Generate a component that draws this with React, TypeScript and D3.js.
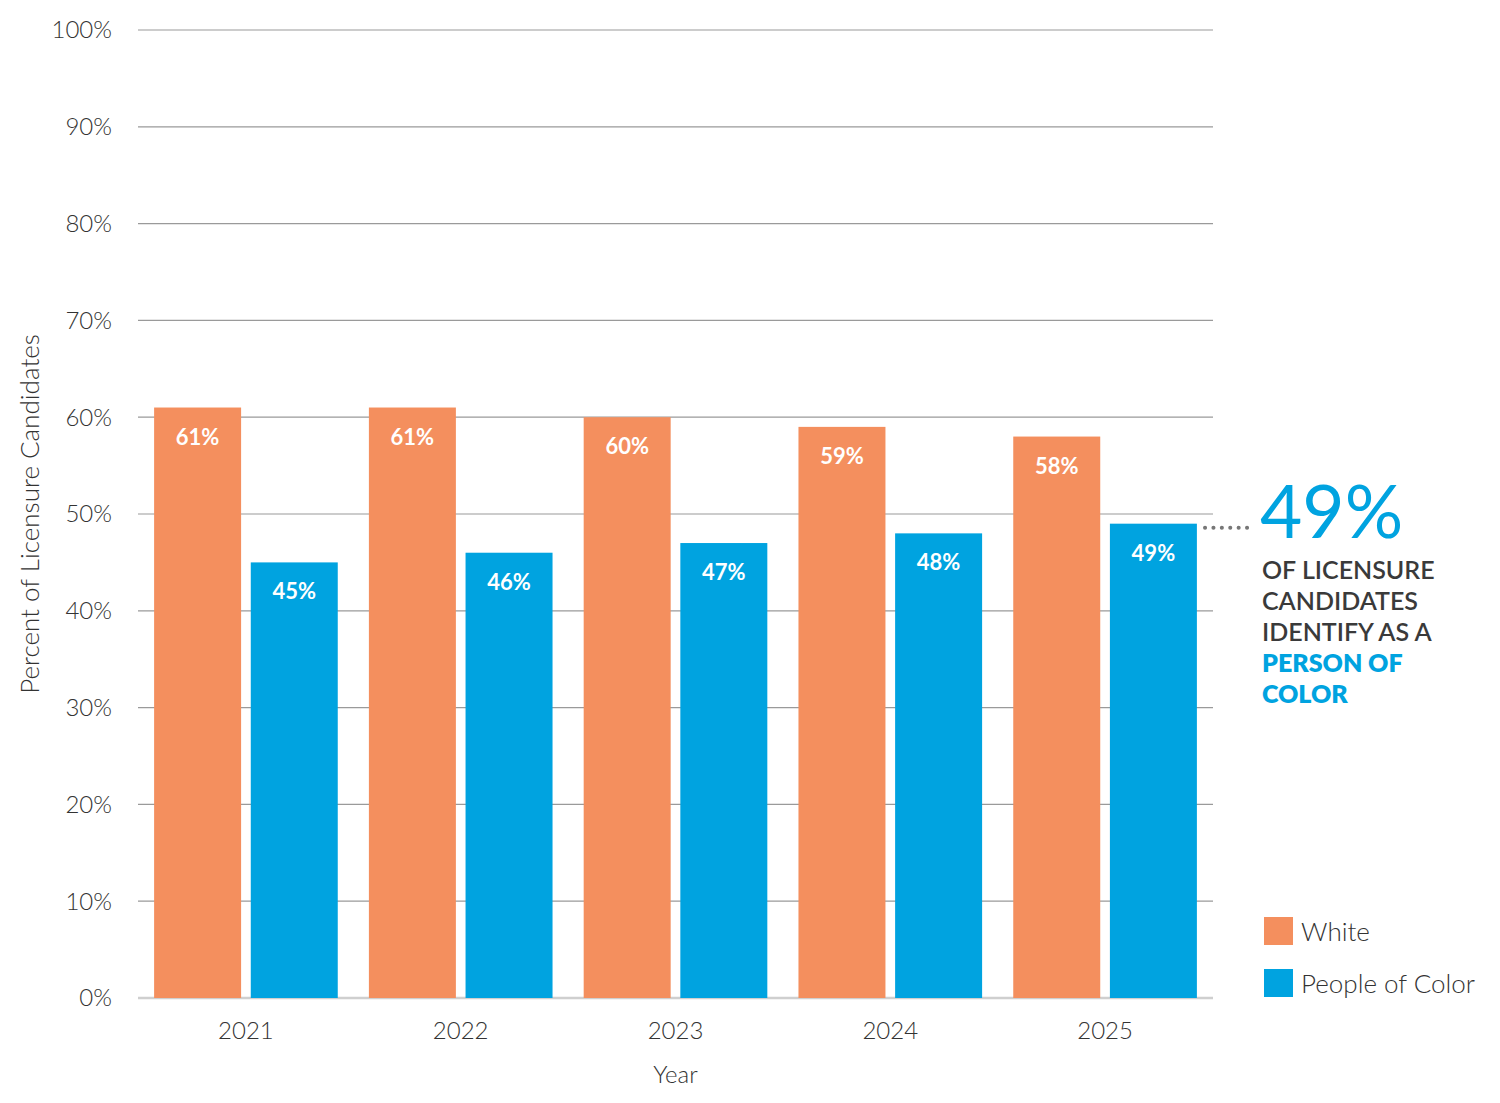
import { useEffect, useRef } from "react"
import * as d3 from "d3"

const years = ["2021", "2022", "2023", "2024", "2025"]
const series = ["White", "People of Color"]
const whiteValues = [61, 61, 60, 59, 58]
const pocValues = [45, 46, 47, 48, 49]
const yTicks = [0, 10, 20, 30, 40, 50, 60, 70, 80, 90, 100]
const calloutLines = ["OF LICENSURE", "CANDIDATES", "IDENTIFY AS A"]
const calloutBlue = ["PERSON OF", "COLOR"]

const ORANGE = "#F48F5E"
const BLUE = "#00A3E0"
const FONT = "Lato, 'Open Sans', sans-serif"

export default function App() {
    const svgRef = useRef<SVGSVGElement>(null)
    const width = 1500
    const height = 1103

    useEffect(() => {
        const margin = { top: 30, right: 287, bottom: 105, left: 138 }

        const x0 = d3.scaleBand()
            .domain(years)
            .range([margin.left, width - margin.right])
            .paddingInner(0.145)
            .paddingOuter(0.075)

        const x1 = d3.scaleBand()
            .domain(series)
            .range([0, x0.bandwidth()])
            .paddingInner(0.1)

        const y = d3.scaleLinear()
            .domain([0, 100])
            .range([height - margin.bottom, margin.top])

        const color = d3.scaleOrdinal<string>().domain(series).range([ORANGE, BLUE])

        const svg = d3.select(svgRef.current)
        svg.selectAll("*").remove() // clear before redraw

        // gridlines
        svg.append("g")
            .selectAll("line")
            .data(yTicks)
            .join("line")
            .attr("x1", margin.left)
            .attr("x2", width - margin.right)
            .attr("y1", d => y(d))
            .attr("y2", d => y(d))
            .attr("stroke", d => (d === 0 ? "#cfcfcf" : "#9a9a9a"))
            .attr("stroke-width", d => (d === 0 ? 2.5 : 1.2))

        // y tick labels
        svg.append("g")
            .selectAll("text")
            .data(yTicks)
            .join("text")
            .attr("x", 112)
            .attr("y", d => y(d))
            .attr("dy", "0.35em")
            .attr("text-anchor", "end")
            .attr("font-family", FONT)
            .attr("font-weight", 300)
            .attr("font-size", 24)
            .attr("fill", "#333")
            .text(d => `${d}%`)

        const rows = years.map((yr, i) => ({ yr, vals: [whiteValues[i], pocValues[i]] }))

        const groups = svg.append("g")
            .selectAll("g")
            .data(rows)
            .join("g")
            .attr("transform", d => `translate(${x0(d.yr)},0)`)

        groups.selectAll("rect")
            .data(d => d.vals.map((v, j) => ({ key: series[j], v })))
            .join("rect")
            .attr("x", d => x1(d.key)!)
            .attr("width", x1.bandwidth())
            .attr("y", d => y(d.v))
            .attr("height", d => y(0) - y(d.v))
            .attr("fill", d => color(d.key))

        groups.selectAll("text.val")
            .data(d => d.vals.map((v, j) => ({ key: series[j], v })))
            .join("text")
            .attr("class", "val")
            .attr("x", d => x1(d.key)! + x1.bandwidth() / 2)
            .attr("y", d => y(d.v) + 37)
            .attr("text-anchor", "middle")
            .attr("font-family", FONT)
            .attr("font-weight", 700)
            .attr("font-size", 22)
            .attr("fill", "#fff")
            .text(d => `${d.v}%`)

        // x labels
        svg.append("g")
            .selectAll("text")
            .data(years)
            .join("text")
            .attr("x", d => x0(d)! + x0.bandwidth() / 2)
            .attr("y", 1039)
            .attr("text-anchor", "middle")
            .attr("font-family", FONT)
            .attr("font-weight", 300)
            .attr("font-size", 24)
            .attr("fill", "#333")
            .text(d => d)

        svg.append("text")
            .attr("x", (margin.left + width - margin.right) / 2)
            .attr("y", 1083)
            .attr("text-anchor", "middle")
            .attr("font-family", FONT)
            .attr("font-weight", 300)
            .attr("font-size", 24)
            .attr("fill", "#333")
            .text("Year")

        svg.append("text")
            .attr("transform", `translate(39,${y(50)}) rotate(-90)`)
            .attr("text-anchor", "middle")
            .attr("font-family", FONT)
            .attr("font-weight", 300)
            .attr("font-size", 26)
            .attr("fill", "#333")
            .text("Percent of Licensure Candidates")

        // callout
        const last = pocValues[pocValues.length - 1]
        svg.append("line")
            .attr("x1", 1205)
            .attr("x2", 1252)
            .attr("y1", y(last) + 4)
            .attr("y2", y(last) + 4)
            .attr("stroke", "#777")
            .attr("stroke-width", 4)
            .attr("stroke-linecap", "round")
            .attr("stroke-dasharray", "0.1 8.3")

        svg.append("text")
            .attr("x", 1260)
            .attr("y", 538)
            .attr("font-family", FONT)
            .attr("font-weight", 400)
            .attr("font-size", 73)
            .attr("fill", BLUE)
            .text(`${last}%`)

        const callout = svg.append("g")
            .attr("font-family", FONT)
            .attr("font-size", 25)
        calloutLines.concat(calloutBlue).forEach((t, i) => {
            callout.append("text")
                .attr("x", 1262)
                .attr("y", 579 + i * 31)
                .attr("fill", i < calloutLines.length ? "#3a3a3a" : BLUE)
                .attr("font-weight", i < calloutLines.length ? 600 : 800)
                .text(t)
        })

        // legend
        const legend = svg.append("g")
            .selectAll("g")
            .data(series)
            .join("g")
            .attr("transform", (_, i) => `translate(1264,${917 + i * 52})`)
        legend.append("rect")
            .attr("width", 29)
            .attr("height", 28)
            .attr("fill", d => color(d))
        legend.append("text")
            .attr("x", 37)
            .attr("y", 24)
            .attr("font-family", FONT)
            .attr("font-weight", 300)
            .attr("font-size", 26)
            .attr("fill", "#333")
            .text(d => d)
    }, [])

    return (
        <svg
            ref={svgRef}
            width={width}
            height={height}
            viewBox={`0 0 ${width} ${height}`}
            style={{ position: "absolute", left: 0, top: 0, background: "#fff" }}
        />
    )
}
